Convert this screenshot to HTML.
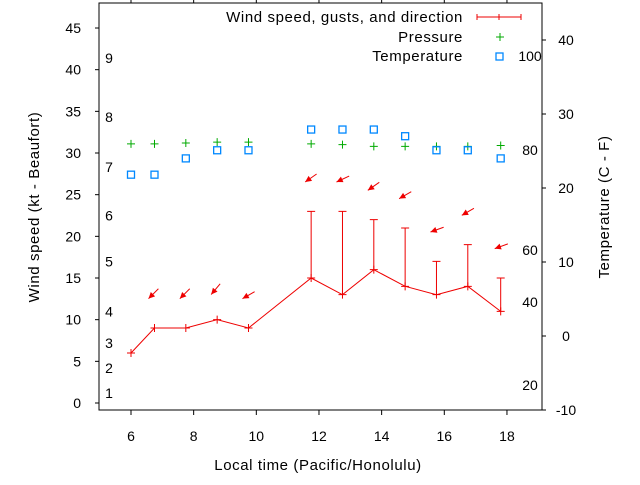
<!DOCTYPE html>
<html><head><meta charset="utf-8"><style>
body{margin:0;background:#fff}
svg text{font-family:"Liberation Sans",sans-serif;font-size:14px;fill:#000}
svg text.big{font-size:15px;letter-spacing:0.6px}
</style></head><body>
<svg id="c" width="640" height="480" xmlns="http://www.w3.org/2000/svg">
<rect x="99" y="3" width="443" height="407" fill="none" stroke="#000" stroke-width="1"/>
<g id="axes"></g><g id="marks"></g>
<text class="big" x="318" y="470" text-anchor="middle">Local time (Pacific/Honolulu)</text>
<text class="big" transform="translate(39,207) rotate(-90)" text-anchor="middle">Wind speed (kt - Beaufort)</text>
<text class="big" transform="translate(609,207) rotate(-90)" text-anchor="middle">Temperature (C - F)</text>
<g>
<text class="big" x="463" y="22" text-anchor="end">Wind speed, gusts, and direction</text>
<path d="M477 17H521M477 14V20M499 14V20M521 14V20" stroke="#e00" fill="none"/>
<text class="big" x="463" y="42" text-anchor="end">Pressure</text>
<path d="M496 37H504M500 33V41" stroke="#0a0"/>
<text class="big" x="463" y="61" text-anchor="end">Temperature</text>
<rect x="496" y="53" width="7" height="7" fill="none" stroke="#08f" stroke-width="1.3"/>
</g>
</svg>
<script>
const times=[6,6.75,7.75,8.75,9.75,11.75,12.75,13.75,14.75,15.75,16.75,17.8];
const speeds=[6,9,9,10,9,15,13,16,14,13,14,11];
const gustTimes=[11.75,12.75,13.75,14.75,15.75,16.75,17.8];
const gusts=[23,23,22,21,17,19,15];
const arrowTimes=[6.75,7.75,8.75,9.75,11.75,12.75,13.75,14.75,15.75,16.75,17.8];
const arrowHeights=[13,13,13.5,13,27,27,26,25,21,23,19];
const arrowDirs=[45,45,50,30,35,25,35,30,20,30,20];
const pressure=[31.1,31.1,31.2,31.3,31.3,31.1,31.0,30.8,30.8,30.8,30.8,30.9];
const tempC=[21.8,21.8,24,25.1,25.1,27.9,27.9,27.9,27,25.1,25.1,24];
const xTicks=[6,8,10,12,14,16,18];
const yTicks=[0,5,10,15,20,25,30,35,40,45];
const y2Ticks=[-10,0,10,20,30,40];
const fLabels=["100","80","60","40","20"];
const bLabels=["1","2","3","4","5","6","7","8","9"];
const bValues=[1.2,4.2,7.2,11,17,22.5,28.3,34.3,41.4];
const fPos=[56,150,250,302,385];
function X(t){return 131+(t-6)*31.33;}
function Y(v){return 403-v*8.333;}
function Y2(c){return 336-c*7.4;}
const NS="http://www.w3.org/2000/svg";
const ax=document.getElementById('axes'),mk=document.getElementById('marks');
function el(p,tag,a){const e=document.createElementNS(NS,tag);for(const k in a)e.setAttribute(k,a[k]);p.appendChild(e);return e;}
xTicks.forEach(t=>{
 const l=el(ax,'path',{d:`M${X(t)} 410v5M${X(t)} 3v-5`,stroke:'#000'});
 
 
 const tx=el(ax,'text',{x:X(t),y:441,'text-anchor':'middle'});tx.textContent=t;
 
 
});
yTicks.forEach(v=>{
 const l=el(ax,'path',{d:`M95 ${Y(v)}h4`,stroke:'#000'});
 
 
 const tx=el(ax,'text',{x:81,y:Y(v)+5,'text-anchor':'end'});tx.textContent=v;
 
 
});
y2Ticks.forEach(v=>{
 const l=el(ax,'path',{d:`M542 ${Y2(v)}h4`,stroke:'#000'});
 
 
 const tx=el(ax,'text',{x:566,y:Y2(v)+5,'text-anchor':'middle'});tx.textContent=v;
 
 
});
fLabels.forEach((s,i)=>{
 const tx=el(ax,'text',{x:530,y:fPos[i]+5,'text-anchor':'middle'});tx.textContent=s;
 
 
});
bLabels.forEach((s,i)=>{
 const tx=el(ax,'text',{x:109,y:Y(bValues[i])+5,'text-anchor':'middle'});tx.textContent=s;
 
 
});
const ln=el(mk,'polyline',{points:times.map((t,i)=>X(t)+','+Y(speeds[i])).join(' '),fill:'none',stroke:'#e00'});


times.forEach((t,i)=>{
 const p=el(mk,'path',{d:`M${X(t)-4} ${Y(speeds[i])}h8M${X(t)} ${Y(speeds[i])-4}v8`,stroke:'#e00'});
 
 
});
gustTimes.forEach((t,i)=>{
 const si=times.indexOf(t);
 const p=el(mk,'path',{d:`M${X(t)} ${Y(speeds[si])}V${Y(gusts[i])}M${X(t)-4} ${Y(gusts[i])}h8`,stroke:'#e00'});
 
 
});
arrowTimes.forEach((t,i)=>{
 const a=arrowDirs[i]*Math.PI/180,L=14;
 const hx=X(t)-6,hy=Y(arrowHeights[i])+4;
 const tx=hx+L*Math.cos(a),ty=hy-L*Math.sin(a);
 const b1=a+0.45,b2=a-0.45;
 const g=el(mk,'g',{});
 
 
 el(g,'line',{x1:tx,y1:ty,x2:hx,y2:hy,stroke:'#e00'});
 el(g,'polygon',{points:`${hx},${hy} ${hx+7*Math.cos(b1)},${hy-7*Math.sin(b1)} ${hx+7*Math.cos(b2)},${hy-7*Math.sin(b2)}`,fill:'#e00'});
});
times.forEach((t,i)=>{
 const p=el(mk,'path',{d:`M${X(t)-4} ${Y(pressure[i])}h8M${X(t)} ${Y(pressure[i])-4}v8`,stroke:'#0a0'});
 
 
 const r=el(mk,'rect',{x:X(t)-3.5,y:Y2(tempC[i])-3.5,width:7,height:7,fill:'none',stroke:'#08f','stroke-width':1.3});
 
 
});
</script>
</body></html>
